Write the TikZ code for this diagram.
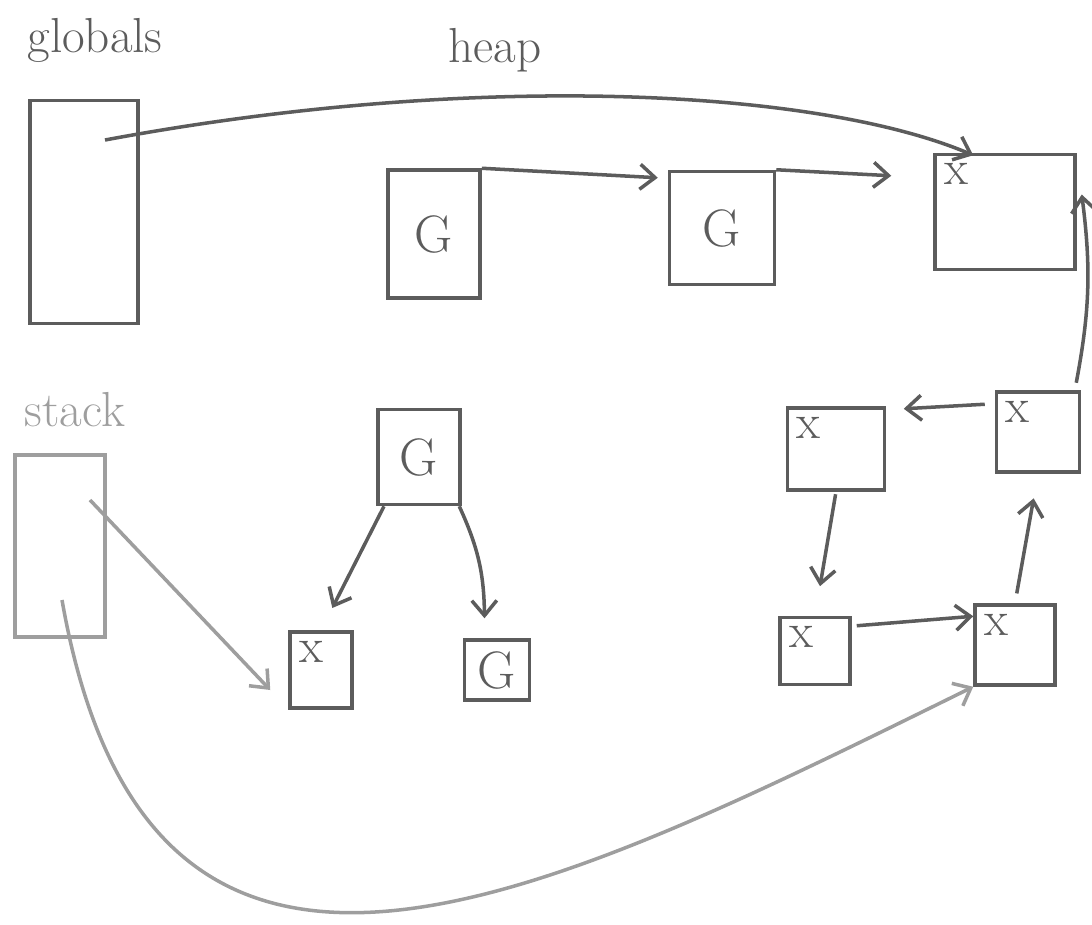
\documentclass[tikz,border=0pt]{standalone}
\usepackage{xcolor}
\usepackage{tikz}
\usetikzlibrary{calc,arrows.meta,shapes}

\definecolor{ink}{gray}{0.36}
\definecolor{pale}{gray}{0.62}

\begin{document}
\begin{tikzpicture}[x=0.02cm, y=-0.02cm,
    cell/.style={draw=ink, line width=2pt, inner sep=0pt},
    xcell/.style={cell, label={[anchor=north west, inner sep=6pt, text=ink,
        font=\fontsize{28}{28}\selectfont]north west:x}},
    gcell/.style={cell, text=ink, font=\fontsize{30}{30}\selectfont},
    title/.style={text=ink, font=\fontsize{28}{28}\selectfont},
    ptr/.style={-{Straight Barb[length=3mm,width=5mm]}, draw=ink, line width=2pt},
    sptr/.style={ptr, draw=pale}
    ]
    \useasboundingbox (0,0) rectangle (1092,924);

    % roots
    \node[title] (globtitle) at (95,40) {globals};
    \node[title] (heaptitle) at (495,50) {heap};
    \node[title, text=pale] (stacktitle) at (75,410) {stack};
    \node[cell, minimum width=2.16cm, minimum height=4.46cm] (glob) at (84,212) {};
    \node[cell, draw=pale, minimum width=1.8cm, minimum height=3.64cm] (stk) at (60,546) {};
    \coordinate (globslot) at (105,140);
    \coordinate (stkslot1) at (90,500);
    \coordinate (stkslot2) at (62,600);

    % heap objects
    \node[gcell, minimum width=1.84cm, minimum height=2.56cm] (g1) at (434,234) {G};
    \node[gcell, minimum width=2.1cm, minimum height=2.26cm] (g2) at (722,228) {G};
    \node[xcell, minimum width=2.8cm, minimum height=2.3cm] (xtop) at (1005,212) {};
    \node[gcell, minimum width=1.64cm, minimum height=1.9cm] (gmid) at (419,457) {G};
    \node[xcell, minimum width=1.24cm, minimum height=1.52cm] (xl) at (321,670) {};
    \node[gcell, minimum width=1.3cm, minimum height=1.2cm] (gr) at (497,670) {G};
    \node[xcell, minimum width=1.94cm, minimum height=1.64cm] (xa) at (836,449) {};
    \node[xcell, minimum width=1.66cm, minimum height=1.6cm] (xb) at (1038,432) {};
    \node[xcell, minimum width=1.4cm, minimum height=1.34cm] (xc) at (815,651) {};
    \node[xcell, minimum width=1.6cm, minimum height=1.6cm] (xd) at (1015,645) {};

    % pointers
    \draw[ptr] (globslot) .. controls (480,70) and (820,90) .. ([shift={(0.8cm,-0.05cm)}]xtop.north west);
    \draw[ptr] (g1.north east) -- ([shift={(-0.2cm,-0.16cm)}]g2.north west);
    \draw[ptr] (g2.north east) -- ([shift={(-0.84cm,-0.46cm)}]xtop.north west);
    \draw[ptr, shorten >=0.5cm] ([xshift=-0.7cm]gmid.south) -- (xl.north);
    \draw[ptr] ([xshift=-0.05cm]gmid.south east) to[bend left=12] ([shift={(-0.25cm,0.4cm)}]gr.north);
    \draw[ptr] ([shift={(-0.2cm,-0.28cm)}]xb.north west) -- ([shift={(0.35cm,-0.05cm)}]xa.north east);
    \draw[ptr, shorten <=0.05cm, shorten >=0.6cm] (xa.south) -- (xc.north);
    \draw[ptr] ([shift={(0.1cm,-0.2cm)}]xc.north east) -- ([yshift=-0.26cm]xd.north west);
    \draw[ptr, shorten <=0.2cm, shorten >=0.5cm] (xd.north) -- (xb.south);
    \draw[ptr] ([shift={(-0.1cm,0.15cm)}]xb.north east) to[bend right=9] ([shift={(0.1cm,0.35cm)}]xtop.east);
    \draw[sptr] (stkslot1) -- ([xshift=-0.36cm, yshift=-0.4cm]xl.west);
    \draw[sptr] (stkslot2) .. controls (150,1100) and (540,900) .. (xd.south west);
\end{tikzpicture}
\end{document}
